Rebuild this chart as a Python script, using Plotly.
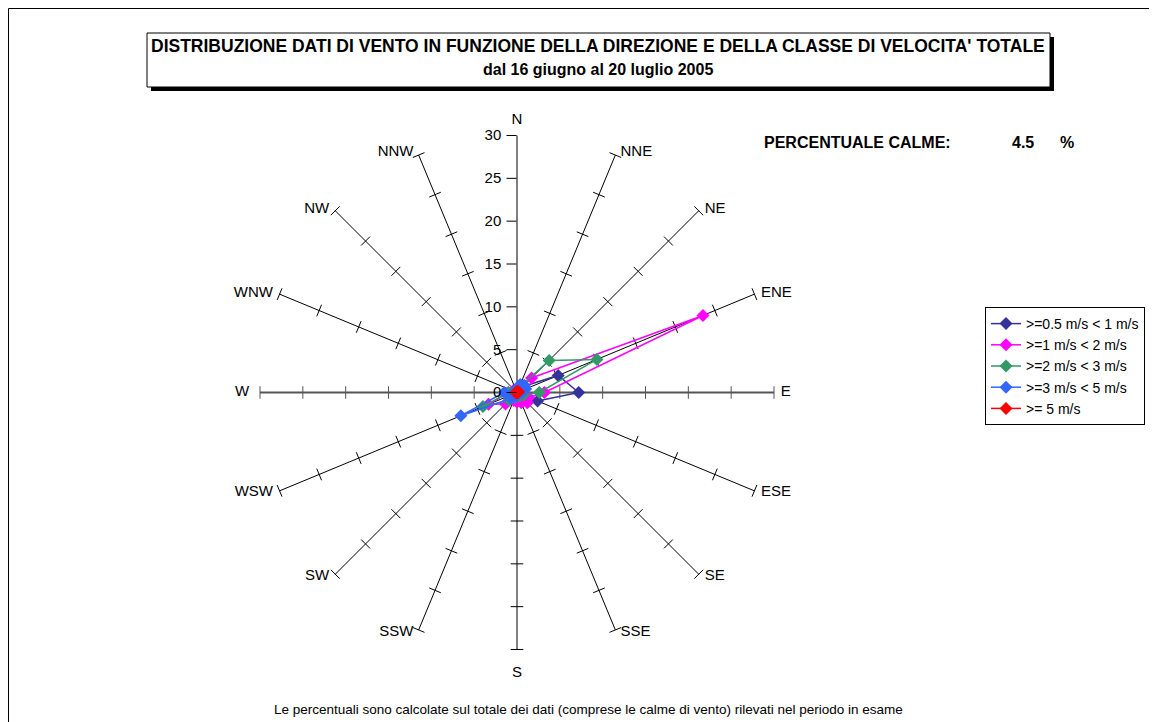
import plotly.graph_objects as go

# page offset (body margin) compensation
OFF = 8
W, H = 1157 - OFF, 722 - OFF

directions = ["N", "NNE", "NE", "ENE", "E", "ESE", "SE", "SSE",
              "S", "SSW", "SW", "WSW", "W", "WNW", "NW", "NNW"]

series_names = [">=0.5 m/s < 1 m/s", ">=1 m/s < 2 m/s", ">=2 m/s < 3 m/s",
                ">=3 m/s < 5 m/s", ">= 5 m/s"]
series_colors = ["#333399", "#FF00FF", "#339966", "#3366FF", "#FF0000"]

v_05_1 = [0.3, 0.5, 1.0, 5.2, 7.2, 2.6, 1.2, 0.8, 0.4, 0.5, 0.8, 0.8, 0.5, 0.3, 0.2, 0.2]
v_1_2 = [0.4, 0.8, 2.4, 23.5, 3.2, 1.5, 1.7, 1.3, 1.1, 1.0, 1.9, 3.6, 1.0, 0.5, 0.3, 0.3]
v_2_3 = [0.3, 0.6, 5.3, 10.1, 2.6, 0.8, 0.5, 0.4, 0.4, 0.6, 1.3, 4.3, 1.0, 0.3, 0.2, 0.2]
v_3_5 = [0.5, 1.0, 1.2, 1.1, 0.6, 0.3, 0.2, 0.2, 0.3, 0.5, 1.0, 7.1, 1.5, 0.3, 0.2, 0.2]
v_5 = [0.1, 0.1, 0.1, 0.2, 0.1, 0.0, 0.0, 0.0, 0.0, 0.0, 0.1, 0.1, 0.1, 0.0, 0.0, 0.0]
series_values = [v_05_1, v_1_2, v_2_3, v_3_5, v_5]

radial_ticks = [0, 5, 10, 15, 20, 25, 30]
calme_value = "4.5"

title_line1 = "DISTRIBUZIONE DATI DI VENTO IN FUNZIONE DELLA DIREZIONE E DELLA CLASSE DI VELOCITA' TOTALE"
title_line2 = "dal 16 giugno al 20 luglio 2005"
footer = "Le percentuali sono calcolate sul totale dei dati (comprese le calme di vento) rilevati nel periodo in esame"

FONT = "Liberation Sans, Arial, sans-serif"


def px(x):
    return (x - OFF) / W


def py(y):
    return 1 - (y - OFF) / H


fig = go.Figure()

rmax = radial_ticks[-1]
rview = rmax * 1.1   # radial range leaves room for the compass labels

# spokes (0 -> rmax for every direction; E/W drawn separately in grey)
s_theta, s_r = [], []
for d in directions:
    if d in ("E", "W"):
        continue
    s_theta += [d, d, None]
    s_r += [0, rmax, None]
fig.add_trace(go.Scatterpolar(
    theta=s_theta, r=s_r, mode="lines", showlegend=False, hoverinfo="skip",
    connectgaps=False, line=dict(color="black", width=1)))

# W-E axis line (grey, thicker)
fig.add_trace(go.Scatterpolar(
    theta=["W", "N", "E"], r=[rmax, 0, rmax],
    mode="lines", showlegend=False, hoverinfo="skip",
    line=dict(color="#555555", width=2)))

# spoke tick marks
t_theta, t_r, t_ang, t_col = [], [], [], []
for i, d in enumerate(directions):
    if d == "N":
        continue
    for v in radial_ticks[1:]:
        t_theta.append(d)
        t_r.append(v)
        t_ang.append(i * 22.5)
        t_col.append("#555555" if d in ("E", "W") else "black")
fig.add_trace(go.Scatterpolar(
    theta=t_theta, r=t_r, mode="markers", showlegend=False, hoverinfo="skip",
    marker=dict(symbol="line-ew", size=9, angle=t_ang,
                line=dict(width=1, color=t_col), color=t_col)))

# compass labels beyond the spoke tips
lab_pos, lab_r, lab_txt = [], [], []
for i, d in enumerate(directions):
    if d == "N":
        lab_pos.append("top center"); lab_r.append(rmax * 1.03); lab_txt.append(d)
    elif d == "S":
        lab_pos.append("bottom center"); lab_r.append(rmax * 1.065); lab_txt.append(d)
    elif i < 8:
        lab_pos.append("middle right"); lab_r.append(rmax * 1.01); lab_txt.append(" " + d)
    else:
        pad = "  " if d == "W" else " "
        lab_pos.append("middle left"); lab_r.append(rmax * 1.01); lab_txt.append(d + pad)
fig.add_trace(go.Scatterpolar(
    theta=directions, r=lab_r, mode="text", text=lab_txt, textposition=lab_pos,
    textfont=dict(size=15, family=FONT, color="black"), showlegend=False,
    hoverinfo="skip", cliponaxis=False))

for name, col, vals in zip(series_names, series_colors, series_values):
    fig.add_trace(go.Scatterpolar(
        theta=directions + directions[:1], r=vals + vals[:1],
        mode="lines+markers", name=name,
        line=dict(color=col, width=1.5),
        marker=dict(symbol="diamond", size=10, color=col)))

cx, cy, R = 517, 392.5, 257 * rview / rmax
fig.update_layout(
    width=W, height=H,
    margin=dict(l=0, r=0, t=0, b=0),
    paper_bgcolor="white", plot_bgcolor="white",
    font=dict(family=FONT, size=15, color="black"),
    polar=dict(
        domain=dict(x=[px(cx - R), px(cx + R)], y=[py(cy + R), py(cy - R)]),
        bgcolor="rgba(0,0,0,0)",
        angularaxis=dict(
            type="category", categoryarray=directions, rotation=90,
            direction="clockwise", showline=False, showgrid=False,
            ticks="", showticklabels=False),
        radialaxis=dict(
            range=[0, rview], tickvals=radial_ticks, angle=90, tickangle=90,
            side="counterclockwise", showgrid=False, showline=False,
            ticks="outside", ticklen=10, tickcolor="black",
            tickfont=dict(size=15, family=FONT, color="black")),
    ),
    legend=dict(
        x=px(985), y=py(307), xanchor="left", yanchor="top",
        bordercolor="black", borderwidth=1, bgcolor="white", itemwidth=30,
        font=dict(size=14, family=FONT), tracegroupgap=0),
    showlegend=True,
)

shapes = [
    # outer chart border
    dict(type="rect", xref="paper", yref="paper", x0=px(8.5), x1=px(1175), y0=py(735), y1=py(8.5),
         line=dict(color="black", width=1), layer="below"),
    # title shadow
    dict(type="rect", xref="paper", yref="paper", x0=px(151), x1=px(1054), y0=py(91), y1=py(37),
         line=dict(width=0), fillcolor="black", layer="below"),
    # title box
    dict(type="rect", xref="paper", yref="paper", x0=px(147), x1=px(1050), y0=py(87), y1=py(33),
         line=dict(color="black", width=1), fillcolor="white", layer="below"),
]
fig.update_layout(shapes=shapes)

ann = [
    dict(text="<b>" + title_line1 + "</b>", x=px(598), y=py(46), font=dict(size=17.5, family=FONT)),
    dict(text="<b>" + title_line2 + "</b>", x=px(598), y=py(69), font=dict(size=16, family=FONT)),
    dict(text="<b>PERCENTUALE CALME:</b>", x=px(762), y=py(142), xanchor="left",
         font=dict(size=16, family=FONT)),
    dict(text="<b>" + calme_value + "</b>", x=px(1023), y=py(142),
         font=dict(size=16, family=FONT)),
    dict(text="<b>%</b>", x=px(1067), y=py(142),
         font=dict(size=16, family=FONT)),
    dict(text=footer, x=px(588), y=py(709), font=dict(size=13.5, family=FONT)),
]
for a in ann:
    a.update(xref="paper", yref="paper", showarrow=False, yanchor="middle")
    a.setdefault("xanchor", "center")
fig.update_layout(annotations=ann)

fig.write_html("out.html")
